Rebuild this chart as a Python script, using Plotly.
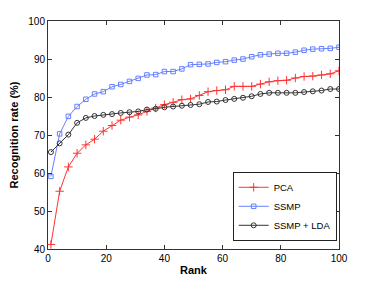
import plotly.graph_objects as go

rank = list(range(1, 101, 3))
pca = [41.2, 55.2, 61.6, 65.2, 67.4, 68.9, 71.0, 72.5, 73.9, 74.7, 75.3,
       76.2, 77.1, 78.0, 78.6, 79.3, 79.5, 80.4, 81.4, 81.7, 81.9, 82.8,
       82.8, 82.8, 83.4, 84.0, 84.3, 84.4, 85.0, 85.4, 85.5, 85.8, 86.1, 86.9]
ssmp = [59.1, 70.3, 74.9, 77.5, 79.4, 80.8, 81.4, 82.7, 83.3, 84.1, 84.9,
        85.8, 85.9, 86.7, 86.7, 87.4, 88.5, 88.6, 88.7, 89.1, 89.3, 89.7,
        90.0, 90.6, 91.1, 91.3, 91.5, 91.5, 91.8, 92.3, 92.6, 92.7, 92.8, 93.1]
ssmp_lda = [65.5, 67.8, 70.1, 73.2, 74.5, 75.0, 75.3, 75.5, 75.8, 76.0, 76.2,
            76.7, 76.9, 77.3, 77.5, 77.7, 77.9, 78.1, 78.7, 78.8, 79.2, 79.5,
            79.8, 80.2, 80.8, 81.1, 81.1, 81.1, 81.1, 81.3, 81.5, 81.7, 82.1, 82.1]

x_ticks = [0, 20, 40, 60, 80, 100]
y_ticks = [40, 50, 60, 70, 80, 90, 100]

fig = go.Figure()
fig.add_trace(go.Scatter(x=rank, y=pca, name="PCA", mode="lines+markers",
                         line=dict(color="#ff3333", width=1),
                         marker=dict(symbol="cross-thin", size=6,
                                     line=dict(color="#ff3333", width=1))))
fig.add_trace(go.Scatter(x=rank, y=ssmp, name="SSMP", mode="lines+markers",
                         line=dict(color="#6680ff", width=1),
                         marker=dict(symbol="square-open", size=4.5,
                                     color="#6680ff", line=dict(width=1))))
fig.add_trace(go.Scatter(x=rank, y=ssmp_lda, name="SSMP + LDA", mode="lines+markers",
                         line=dict(color="#333333", width=1),
                         marker=dict(symbol="circle-open", size=5,
                                     color="#333333", line=dict(width=1))))

axis_common = dict(showgrid=False, zeroline=False, showline=True, mirror="ticks",
                   linecolor="#333333", linewidth=1, ticks="inside", ticklen=4,
                   tickcolor="#333333", automargin=False,
                   tickfont=dict(family="Liberation Sans", size=10, color="black"))

fig.update_layout(
    width=366, height=273,
    margin=dict(l=40, r=35, t=13, b=32),
    paper_bgcolor="white", plot_bgcolor="white",
    font=dict(family="Liberation Sans", size=10, color="black"),
    showlegend=True,
    legend=dict(x=0.992, y=0.036, xanchor="right", yanchor="bottom",
                bordercolor="#222222", borderwidth=1, bgcolor="white",
                font=dict(size=9.5), tracegroupgap=0, itemwidth=30),
    xaxis=dict(range=[0, 100], tickvals=x_ticks,
               title=dict(text="<b>Rank</b>", font=dict(size=11), standoff=3), **axis_common),
    yaxis=dict(range=[40, 100], tickvals=y_ticks,
               title=dict(text="<b>Recognition rate (%)</b>", font=dict(size=11), standoff=10), **axis_common),
)

fig.write_html("out.html", config={"displayModeBar": False})
